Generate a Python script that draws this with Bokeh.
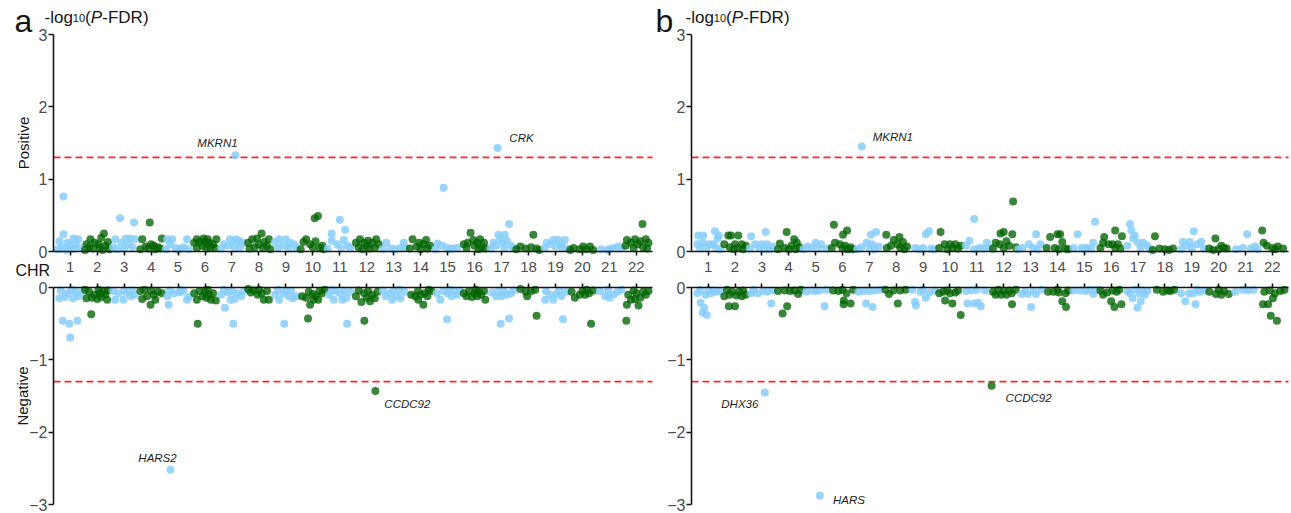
from bokeh.plotting import figure
from bokeh.models import Range1d, Label, FixedTicker, ColumnDataSource, LinearAxis
from bokeh.layouts import row
from bokeh.embed import file_html
from bokeh.resources import INLINE

# ---------------- data ----------------
CHROMS = list(range(1, 23))
THRESHOLD = 1.3  # -log10(0.05)

# each string: "offset:value" pairs for one chromosome (offset = position inside the chromosome band)
A_POS = [
    "-.25:.76 -.25:.24 .12:.18 .3:.17 -.4:.14 -.1:.12 .2:.1 0:.08 -.3:.06 .35:.05 -.45:.03 .1:.03 -.15:.02",
    ".25:.25 .15:.19 -.25:.17 .4:.13 -.4:.1 -.1:.12 .05:.1 .3:.08 -.3:.06 -.15:.04 .1:.05 .45:.03 .2:.02 -.45:.02",
    "-.15:.46 .37:.4 -.33:.17 .05:.18 .22:.18 .4:.17 -.1:.12 .15:.1 -.4:.06 .3:.06 0:.04 -.25:.03",
    "-.05:.4 -.33:.17 .4:.18 0:.1 .1:.08 -.2:.07 .25:.06 -.4:.03 .35:.04 .15:.03 -.1:.04",
    "-.4:.17 -.22:.17 .33:.17 -.3:.1 -.1:.05 .1:.04 .2:.06 -.45:.03 .4:.03 0:.02",
    "-.3:.17 -.05:.18 .1:.17 .42:.17 -.4:.12 -.2:.13 0:.14 .15:.12 .3:.1 -.1:.08 .2:.06 -.3:.05 .05:.04 .38:.05",
    "-.07:.17 .15:.17 .27:.15 .4:.12 -.3:.1 -.15:.08 .05:.12 .3:.06 -.4:.04 .1:.04",
    ".1:.25 -.25:.17 -.07:.18 .37:.17 .2:.13 -.4:.12 0:.1 .3:.08 -.15:.06 .15:.05 -.35:.04 .42:.03",
    "-.25:.17 0:.17 -.4:.13 .15:.12 .3:.1 -.1:.08 .4:.05 .1:.04 -.3:.05",
    ".07:.46 .19:.49 -.25:.17 -.35:.13 .1:.14 .35:.08 -.1:.1 0:.06 .25:.05 -.45:.03 .4:.03",
    "0:.44 .2:.3 -.3:.25 .15:.16 -.3:.15 -.1:.1 .3:.08 .4:.05 .05:.05 -.45:.04",
    "-.25:.17 .35:.17 .05:.15 -.4:.12 -.1:.12 .2:.12 .45:.1 0:.08 -.3:.06 .3:.05 .1:.04 -.15:.03",
    "-.28:.12 .37:.12 .25:.05 -.1:.04 .05:.03 -.4:.03 .45:.05",
    "-.3:.17 .2:.16 -.05:.12 .35:.08 .1:.1 -.15:.07 -.4:.04 .25:.04 0:.03",
    "-.15:.88 -.37:.11 -.2:.08 0:.05 .2:.04 .35:.05 .1:.03 -.45:.03",
    "-.15:.26 -.05:.16 .2:.17 .35:.12 -.4:.1 -.25:.12 .1:.12 0:.08 .25:.06 -.3:.05 .4:.04 .15:.03",
    ".28:.38 -.12:.23 .12:.23 -.05:.17 .2:.15 -.3:.12 .05:.12 .35:.08 -.2:.08 .45:.05 -.4:.04 .1:.05",
    ".18:.23 -.3:.07 .1:.06 -.1:.04 .3:.04 -.45:.03 .4:.02",
    "-.08:.16 .1:.16 .35:.16 -.33:.12 -.2:.1 .2:.1 0:.07 -.4:.05 .25:.05 .45:.04",
    "-.33:.05 .03:.07 .28:.07 -.1:.03 .15:.03 -.45:.02 .4:.02",
    "-.3:.03 .15:.05 .33:.07 -.05:.02 .45:.05 0:.03",
    ".23:.38 -.35:.16 -.05:.17 .35:.17 .15:.14 -.2:.12 .05:.1 .45:.12 -.4:.08 .25:.06 -.1:.05 .4:.04",
]
A_NEG = [
    "-.28:-.46 -.03:-.5 .27:-.46 0:-.69 -.4:-.15 -.2:-.13 .1:-.15 .3:-.12 -.1:-.08 .2:-.06 .45:-.05 -.35:-.04 .05:-.03",
    "-.22:-.37 .37:-.17 -.4:-.15 -.2:-.14 0:-.16 .15:-.13 .3:-.1 -.1:-.1 .1:-.08 -.3:-.06 .25:-.05 .4:-.04 -.45:-.03 .05:-.03",
    "-.33:-.17 -.02:-.17 .25:-.12 .4:-.1 -.2:-.08 .1:-.07 -.4:-.05 0:-.04 .3:-.04",
    "-.02:-.24 .16:-.17 -.33:-.16 .4:-.08 -.15:-.12 .1:-.1 -.4:-.05 .25:-.06 0:-.04 -.25:-.03",
    "-.35:-.24 .33:-.17 .4:-.13 -.4:-.12 -.15:-.08 .05:-.07 .2:-.05 -.3:-.04 .1:-.03",
    "-.27:-.5 -.3:-.17 .22:-.17 .4:-.18 -.1:-.12 .05:-.14 .15:-.1 -.4:-.08 .3:-.08 0:-.06 -.2:-.05 .1:-.03",
    ".05:-.5 -.26:-.28 -.05:-.17 .1:-.16 .35:-.12 -.4:-.1 .2:-.08 -.15:-.07 0:-.05 .45:-.05 -.3:-.03",
    ".18:-.17 .37:-.17 -.3:-.07 -.05:-.1 .1:-.08 -.2:-.04 .3:-.05 0:-.03 -.4:-.02",
    "-.06:-.5 -.25:-.17 .25:-.15 .4:-.12 -.4:-.1 .1:-.12 -.1:-.08 0:-.05 .2:-.04 -.3:-.03",
    "-.18:-.43 -.1:-.24 .03:-.17 .2:-.17 -.4:-.12 -.25:-.14 .1:-.12 .35:-.08 0:-.09 -.15:-.06 .25:-.05 .45:-.03",
    ".27:-.5 -.22:-.17 .1:-.17 .25:-.14 -.4:-.1 0:-.08 .4:-.06 -.15:-.05 .15:-.04 -.3:-.03",
    "-.09:-.46 -.2:-.2 .12:-.19 .3:-.15 -.4:-.12 0:-.14 .2:-.1 -.1:-.08 .4:-.06 .05:-.05 -.3:-.04",
    "-.06:-.17 .25:-.15 -.3:-.12 .1:-.12 -.15:-.08 .4:-.06 0:-.05 -.4:-.04 .2:-.03",
    ".1:-.24 -.09:-.17 .25:-.12 -.35:-.1 -.2:-.12 0:-.1 .15:-.08 .4:-.05 -.1:-.05 .3:-.03",
    "-.02:-.44 -.27:-.17 .15:-.12 .35:-.1 -.4:-.08 0:-.08 -.15:-.05 .25:-.05 .45:-.04 .1:-.03",
    ".4:-.17 -.3:-.12 -.1:-.13 .1:-.12 .25:-.1 -.4:-.08 0:-.08 .15:-.06 -.2:-.05 .35:-.05 .05:-.03",
    "-.03:-.5 .28:-.43 -.2:-.12 0:-.12 .2:-.1 .35:-.08 -.35:-.07 .1:-.06 -.1:-.05 .45:-.04",
    ".3:-.39 -.05:-.12 -.1:-.06 .1:-.05 .25:-.03 -.3:-.02",
    ".28:-.44 -.38:-.17 -.08:-.17 .22:-.12 -.2:-.1 .05:-.08 .4:-.06 -.35:-.05 .15:-.04",
    ".32:-.5 -.28:-.14 -.1:-.1 .1:-.1 .25:-.08 -.4:-.06 0:-.05 .4:-.04 .15:-.03",
    "-.15:-.12 0:-.14 .15:-.1 -.35:-.05 .3:-.06 .45:-.03 -.05:-.03",
    "-.37:-.46 .08:-.25 -.35:-.24 -.2:-.17 -.05:-.16 .15:-.14 .35:-.1 -.3:-.1 0:-.08 .25:-.06 -.1:-.04 .45:-.05",
]
B_POS = [
    "-.37:.22 -.18:.22 .25:.28 .4:.22 .35:.18 -.4:.1 -.2:.12 .05:.1 .2:.1 -.05:.06 .3:.05 -.3:.04 .45:.03",
    "-.25:.22 -.15:.22 .12:.22 -.4:.1 0:.1 .25:.1 .4:.08 -.2:.06 .1:.05 -.05:.03 .3:.03",
    ".14:.27 -.4:.21 -.25:.1 0:.1 .2:.1 .4:.07 -.1:.05 .3:.03 -.45:.04 .1:.03",
    "-.08:.27 .2:.17 .3:.12 -.33:.11 .1:.08 .4:.06 -.15:.05 0:.03 -.4:.03 .25:.03",
    "0:.12 -.3:.07 .2:.1 -.15:.05 .4:.04 .1:.04 -.45:.03",
    "-.32:.37 .17:.29 .02:.23 -.28:.12 -.1:.1 .1:.08 .3:.06 -.4:.05 .4:.03 .2:.03 0:.04",
    ".06:.23 .25:.27 -.1:.12 .1:.1 -.3:.06 .35:.07 0:.05 -.45:.03 .2:.03",
    "-.37:.23 -.09:.16 .12:.2 .25:.13 -.2:.08 .05:.1 .4:.07 -.35:.05 .15:.05 .3:.03",
    ".1:.24 .22:.28 -.3:.05 0:.05 -.15:.03 .4:.03 .3:.04",
    "-.35:.27 -.2:.1 0:.1 .2:.1 .4:.08 -.4:.05 .1:.05 .3:.04 -.1:.03",
    "-.1:.45 -.28:.15 .37:.12 -.4:.08 .1:.05 .25:.04 -.1:.03 .45:.05",
    ".35:.69 0:.27 -.12:.25 .32:.24 -.3:.12 .1:.14 -.15:.1 .2:.08 .45:.06 -.4:.04 0:.05",
    ".21:.24 -.06:.1 .37:.1 -.3:.05 .1:.05 -.45:.03 .25:.03",
    "-.27:.2 0:.24 .1:.24 .18:.13 -.4:.05 -.1:.05 .3:.04 .4:.03 .05:.03",
    ".4:.41 -.25:.24 .33:.12 -.4:.05 -.1:.05 .1:.05 .25:.04 0:.03",
    ".15:.29 -.26:.2 .4:.21 -.3:.12 -.1:.1 .05:.1 .25:.1 -.4:.05 .15:.05 .35:.04",
    "-.3:.38 -.25:.29 -.12:.22 -.18:.18 .2:.12 0:.12 -.4:.08 .35:.08 .1:.05 .45:.03",
    "-.37:.21 -.2:.04 0:.03 .3:.04 .15:.02 -.45:.02",
    ".07:.28 -.33:.13 -.08:.13 .35:.13 .2:.1 -.2:.08 0:.05 .45:.04 -.4:.03",
    "-.12:.18 .1:.08 -.35:.04 .3:.04 0:.03 .2:.05 -.2:.02",
    ".06:.24 .35:.07 -.35:.03 -.1:.05 .2:.04 .45:.03",
    "-.38:.29 -.33:.12 -.2:.08 0:.05 .2:.07 .4:.04 .1:.03",
]
B_NEG = [
    "-.28:-.21 -.15:-.28 -.2:-.35 -.05:-.38 -.4:-.08 -.1:-.1 .1:-.08 .3:-.06 .45:-.05 .2:-.04 -.3:-.03 0:-.03",
    "-.23:-.26 0:-.26 -.4:-.12 -.2:-.1 .05:-.11 .25:-.12 .4:-.1 -.1:-.06 .15:-.06 .3:-.04 -.3:-.03",
    ".35:-.22 -.4:-.08 -.15:-.08 .05:-.05 .2:-.06 .4:-.04 -.3:-.03",
    "-.23:-.36 -.06:-.26 .35:-.09 -.4:-.05 -.15:-.04 .05:-.05 .2:-.04 .45:-.03",
    ".33:-.26 -.35:-.06 -.15:-.04 0:-.05 .15:-.04 .4:-.03",
    ".05:-.18 .04:-.23 .3:-.22 -.35:-.04 -.15:-.05 .15:-.08 .4:-.03 0:-.03",
    "-.12:-.22 .12:-.27 -.4:-.06 -.2:-.05 0:-.05 .2:-.04 .4:-.03",
    ".06:-.22 -.27:-.09 -.4:-.03 -.1:-.04 .15:-.04 .35:-.03",
    "-.3:-.2 -.27:-.25 .1:-.14 -.1:-.06 .25:-.07 .45:-.04 -.4:-.03 0:-.03",
    "-.18:-.18 .09:-.22 .4:-.38 -.4:-.08 -.25:-.06 0:-.08 .2:-.07 -.1:-.04 .3:-.04",
    "-.35:-.22 -.1:-.22 .15:-.26 .05:-.21 -.4:-.05 -.2:-.04 .3:-.04 0:-.03",
    ".31:-.23 -.3:-.1 -.1:-.1 .1:-.1 .3:-.08 -.4:-.06 0:-.05 .2:-.04 .45:-.03 -.2:-.03",
    ".02:-.27 -.33:-.09 -.1:-.09 .2:-.09 -.2:-.05 .1:-.04 .4:-.03",
    ".18:-.19 .32:-.27 -.35:-.06 -.15:-.06 .05:-.07 .3:-.08 0:-.03 .4:-.04",
    "-.4:-.04 -.15:-.04 .05:-.05 .33:-.09 .2:-.03 .45:-.03",
    "0:-.19 .12:-.27 .38:-.23 -.3:-.1 -.15:-.07 .2:-.06 -.4:-.04 .05:-.04 .3:-.03",
    "-.02:-.28 .1:-.19 -.2:-.15 .25:-.1 -.3:-.08 .05:-.08 -.4:-.05 .35:-.05 .15:-.04 -.1:-.03",
    "-.07:-.06 .1:-.04 .35:-.03 -.3:-.03 .2:-.05",
    "-.24:-.19 .14:-.23 -.4:-.08 -.1:-.08 .05:-.08 .3:-.06 .45:-.04 .2:-.03",
    "-.35:-.06 -.1:-.09 .1:-.1 .38:-.09 .2:-.05 0:-.03",
    "-.38:-.06 -.1:-.03 .1:-.04 .3:-.03",
    "-.06:-.39 .17:-.46 -.35:-.23 -.16:-.23 .02:-.15 -.3:-.06 .1:-.08 .3:-.05 .45:-.03 -.1:-.04",
]

# annotated genes
A_GENE = ["MKRN1", "CRK", "HARS2", "CCDC92"]
A_GENE_CHR = [7, 17, 5, 12]
A_GENE_OFF = [0.13, -0.15, -0.28, 0.32]
A_GENE_VAL = [1.33, 1.43, -2.52, -1.43]
B_GENE = ["MKRN1", "DHX36", "HARS", "CCDC92"]
B_GENE_CHR = [7, 3, 5, 12]
B_GENE_OFF = [-0.28, 0.11, 0.16, -0.45]
B_GENE_VAL = [1.45, -1.45, -2.88, -1.36]

# ---------------- layout / style ----------------
A_LAB_DX = [-18, 24, -13, 32]
A_LAB_DY = [12, 10, 12, -13]
B_LAB_DX = [31, -25, 29, 37]
B_LAB_DY = [10, -12, -4, -12]

FONT = "Liberation Sans"
BLUE, GREEN = "#87CEFA", "#006400"
TICK_GRAY = "#4d4d4d"
INK = "#151515"
RED = "#FF2626"
H = 512
X_AXIS0, X_AXIS1 = 0.38, 22.6          # data extent of the horizontal axes
POS_ZERO_PX, POS_TOP_PX = 251, 34       # pixel rows of 0 and 3 (positive part)
NEG_ZERO_PX, NEG_BOT_PX = 287, 504      # pixel rows of 0 and -3 (negative part)


def points(strings, g_chr, g_off, g_val, positive):
    xs, ys, cs, al = [], [], [], []

    def add(ch, off, v):
        xs.append(ch + off)
        ys.append(v)
        cs.append(BLUE if ch % 2 else GREEN)
        al.append(0.85 if ch % 2 else 0.78)

    for ch, s in zip(CHROMS, strings):
        for tok in s.split():
            o, v = tok.split(":")
            add(ch, float(o), float(v))
    for ch, o, v in zip(g_chr, g_off, g_val):
        if (v > 0) == positive:
            add(ch, o, v)
    return ColumnDataSource(dict(x=xs, y=ys, c=cs, a=al))


def style_axis(ax):
    ax.axis_line_color = INK
    ax.axis_line_width = 1.6
    ax.major_tick_line_color = INK
    ax.major_tick_line_width = 1.6
    ax.major_tick_in = 0
    ax.minor_tick_line_color = None
    ax.major_label_text_font = FONT
    ax.major_label_text_color = TICK_GRAY
    ax.axis_label_text_font = FONT
    ax.axis_label_text_font_size = "15px"
    ax.axis_label_text_font_style = "normal"
    ax.axis_label_text_color = INK


def panel(letter, pos, neg, g, g_chr, g_off, g_val, dxs, dys,
          canvas_left, width, axis_px, end_px, with_labels):
    ux = (X_AXIS1 - X_AXIS0) / (end_px - axis_px)
    x0 = X_AXIS0 - (axis_px - canvas_left) * ux
    x1 = X_AXIS1 + (canvas_left + width - end_px) * ux
    uy = 3 / (POS_ZERO_PX - POS_TOP_PX)
    uy2 = 3 / (NEG_BOT_PX - NEG_ZERO_PX)
    p = figure(width=width, height=H, x_range=Range1d(x0, x1),
               y_range=Range1d(-(H - POS_ZERO_PX) * uy, POS_ZERO_PX * uy),
               output_backend="svg", toolbar_location=None,
               min_border=0, min_border_left=0, min_border_right=0,
               min_border_top=0, min_border_bottom=0)
    p.extra_y_ranges = {"neg": Range1d(-(H - NEG_ZERO_PX) * uy2, NEG_ZERO_PX * uy2)}
    p.xgrid.visible = False
    p.ygrid.visible = False
    p.outline_line_color = None

    # positive y axis
    yax = p.yaxis[0]
    style_axis(yax)
    yax.fixed_location = X_AXIS0
    yax.bounds = (0, 3)
    yax.ticker = FixedTicker(ticks=[0, 1, 2, 3])
    yax.major_tick_out = 5
    yax.major_label_standoff = 1
    yax.major_label_text_font_size = "16px"
    if with_labels:
        yax.axis_label = "Positive"
        yax.axis_label_standoff = 4
    # negative y axis
    nyax = LinearAxis(y_range_name="neg")
    style_axis(nyax)
    nyax.fixed_location = X_AXIS0
    nyax.bounds = (-3, 0)
    nyax.ticker = FixedTicker(ticks=[-3, -2, -1, 0])
    nyax.major_tick_out = 5
    nyax.major_label_standoff = 1
    nyax.major_label_text_font_size = "16px"
    if with_labels:
        nyax.axis_label = "Negative"
        nyax.axis_label_standoff = -5
    p.add_layout(nyax, "left")
    # chromosome axis under the positive part (carries the labels)
    xax = p.xaxis[0]
    style_axis(xax)
    xax.fixed_location = 0
    xax.bounds = (X_AXIS0, X_AXIS1)
    xax.ticker = FixedTicker(ticks=CHROMS)
    xax.major_tick_out = 4
    xax.major_label_standoff = 6
    xax.major_label_text_font_size = "15px"
    # chromosome axis over the negative part (ticks only)
    nxax = LinearAxis(y_range_name="neg")
    style_axis(nxax)
    nxax.fixed_location = 0
    nxax.bounds = (X_AXIS0, X_AXIS1)
    nxax.ticker = FixedTicker(ticks=CHROMS)
    nxax.major_tick_out = 4
    nxax.major_label_text_color = None
    p.add_layout(nxax, "above")

    # threshold lines
    p.segment(x0=[X_AXIS0], x1=[X_AXIS1], y0=[THRESHOLD], y1=[THRESHOLD],
              line_color=RED, line_dash="7 4", line_width=1.8)
    p.segment(x0=[X_AXIS0], x1=[X_AXIS1], y0=[-THRESHOLD], y1=[-THRESHOLD],
              line_color=RED, line_dash="7 4", line_width=1.8, y_range_name="neg")

    # points
    p.scatter("x", "y", source=points(pos, g_chr, g_off, g_val, True), size=8,
              fill_color="c", fill_alpha="a", line_color=None)
    p.scatter("x", "y", source=points(neg, g_chr, g_off, g_val, False), size=8,
              fill_color="c", fill_alpha="a", line_color=None, y_range_name="neg")

    # gene labels
    for n, ch, o, v, dx, dy in zip(g, g_chr, g_off, g_val, dxs, dys):
        p.add_layout(Label(x=ch + o, y=v, x_offset=dx, y_offset=dy, text=n,
                           y_range_name="default" if v > 0 else "neg",
                           text_font=FONT, text_font_size="11.5px", text_font_style="italic",
                           text_color="#222222", text_align="center", text_baseline="middle"))

    # panel letter and title
    lx = 14 - canvas_left if letter == "a" else 2
    p.add_layout(Label(x=lx, y=H - 20, x_units="screen", y_units="screen", text=letter,
                       text_font=FONT, text_font_size="32px", text_color=INK,
                       text_baseline="alphabetic"))
    tx = 44 - canvas_left if letter == "a" else 32
    for txt, off, size, sty in [("-log", 0, "17px", "normal"), ("10", 28.3, "11px", "normal"),
                                ("(", 40.5, "17px", "normal"), ("P", 46.2, "17px", "italic"),
                                ("-FDR)", 57.8, "17px", "normal")]:
        p.add_layout(Label(x=tx + off, y=H - 17, x_units="screen", y_units="screen", text=txt,
                           text_font=FONT, text_font_size=size, text_font_style=sty,
                           text_color=INK, text_baseline="alphabetic"))
    if with_labels:
        p.add_layout(Label(x=15 - canvas_left, y=H - 270, x_units="screen", y_units="screen",
                           text="CHR", text_font=FONT, text_font_size="16px", text_color=INK,
                           text_baseline="middle"))
    return p


pa = panel("a", A_POS, A_NEG, A_GENE, A_GENE_CHR, A_GENE_OFF, A_GENE_VAL, A_LAB_DX, A_LAB_DY,
           0, 653, 53, 652, True)
pb = panel("b", B_POS, B_NEG, B_GENE, B_GENE_CHR, B_GENE_OFF, B_GENE_VAL, B_LAB_DX, B_LAB_DY,
           653, 637, 691, 1288, False)
layout = row(pa, pb, spacing=0)

open("out.html", "w").write(file_html(layout, INLINE))
